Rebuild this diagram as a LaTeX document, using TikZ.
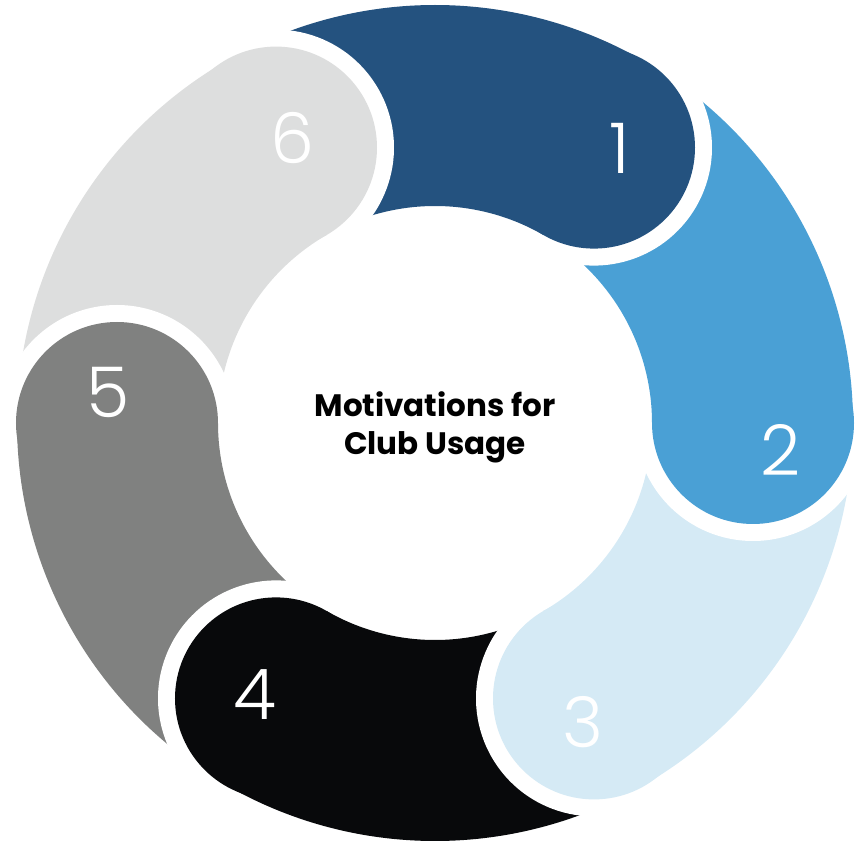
\documentclass[tikz,border=0pt]{standalone}
\usepackage{fontspec}
\setmainfont{Poppins}
\newfontfamily\numfont{Poppins Light}
\definecolor{c1}{HTML}{24527F}
\definecolor{c2}{HTML}{4AA0D5}
\definecolor{c3}{HTML}{D5EAF5}
\definecolor{c4}{HTML}{08090B}
\definecolor{c5}{HTML}{808180}
\definecolor{c6}{HTML}{DDDEDE}
\begin{document}
\begin{tikzpicture}[x=1pt,y=1pt,
  num/.style={text=white,inner sep=0pt,font=\numfont\fontsize{70}{70}\selectfont},
  title/.style={align=center,inner sep=0pt,text=black,font=\bfseries\fontsize{31}{38}\selectfont}]
\useasboundingbox (-435,-419) rectangle (421,423);
\def\rin{217}\def\rout{418}\def\rmid{318}\def\rcap{101}\def\rgap{118}
% ring bodies: each runs from its head angle back to the next head
\foreach \a/\c in {60/c1,0/c2,-60/c3,-120/c4,180/c5,120/c6}{
  \fill[\c] (\a:\rin) arc[start angle=\a, end angle=\a+60, radius=\rin]
    -- (\a+60:\rout) arc[start angle=\a+60, end angle=\a, radius=\rout] -- cycle;
}
% rounded heads with a white rim on their leading side
\foreach \a/\c in {60/c1,0/c2,-60/c3,-120/c4,180/c5,120/c6}{
  \fill[white] (\a:\rmid) ++(\a:\rgap) arc[start angle=\a, end angle=\a-180, radius=\rgap] -- cycle;
  \fill[\c] (\a:\rmid) circle[radius=\rcap];
}
\node[num] (n1) at (185,275) {1};
\node[num] (n2) at (346,-27) {2};
\node[num] (n3) at (148,-299) {3};
\node[num] (n4) at (-180,-272) {4};
\node[num] (n5) at (-327,31) {5};
\node[num] (n6) at (-142,285) {6};
\node[title] (t) at (0,-4) {Motivations for\\Club Usage};
\end{tikzpicture}
\end{document}
